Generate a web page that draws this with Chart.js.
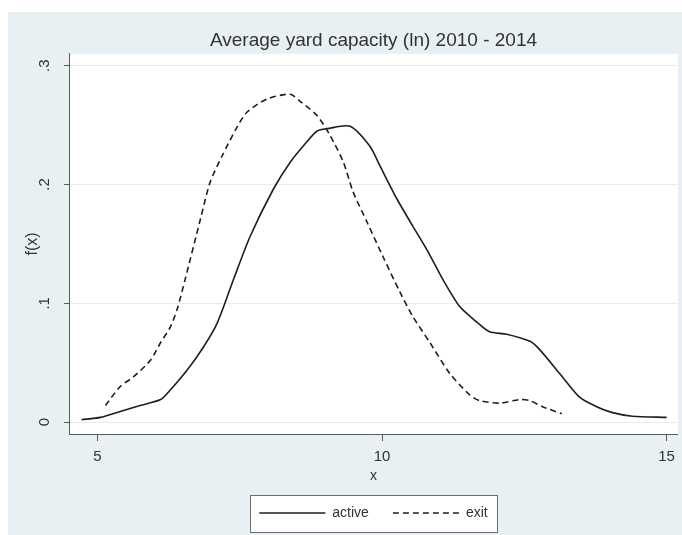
<!DOCTYPE html>
<html>
<head>
<meta charset="utf-8">
<script src="https://cdn.jsdelivr.net/npm/chart.js@4/dist/chart.umd.min.js"></script>
<style>
  html, body { margin: 0; padding: 0; background: #fff; }
  #wrap { position: absolute; left: 8px; top: 12px; width: 674px; height: 523px; background: #e8f0f3; }
</style>
</head>
<body>
<div id="wrap"><canvas id="chart" width="674" height="523"></canvas></div>
<script>
// kernel density of avg yard capacity (ln)
const activeX = [4.72, 5.05, 5.40, 5.75, 6.11, 6.28, 6.58, 6.86, 7.11, 7.39, 7.68, 8.09, 8.39, 8.68, 8.86, 9.04, 9.44, 9.79, 9.96, 10.26, 10.54, 10.79, 11.07, 11.37, 11.67, 11.89, 12.19, 12.60, 12.77, 13.12, 13.47, 13.77, 14.05, 14.40, 15.0]
const activeY = [0.002, 0.004, 0.009, 0.014, 0.019, 0.027, 0.044, 0.063, 0.084, 0.120, 0.156, 0.196, 0.219, 0.236, 0.245, 0.247, 0.249, 0.232, 0.216, 0.188, 0.165, 0.145, 0.120, 0.097, 0.084, 0.076, 0.074, 0.068, 0.061, 0.041, 0.021, 0.013, 0.008, 0.005, 0.004]
const exitX = [5.14, 5.40, 5.63, 5.93, 6.11, 6.28, 6.40, 6.54, 6.81, 6.98, 7.19, 7.46, 7.63, 7.98, 8.39, 8.56, 8.86, 9.09, 9.32, 9.49, 9.74, 10.02, 10.32, 10.54, 10.84, 11.19, 11.54, 11.72, 12.07, 12.42, 12.60, 12.82, 13.16]
const exitY = [0.014, 0.030, 0.038, 0.052, 0.067, 0.080, 0.095, 0.120, 0.171, 0.202, 0.224, 0.249, 0.261, 0.272, 0.276, 0.270, 0.258, 0.241, 0.219, 0.194, 0.168, 0.139, 0.109, 0.089, 0.067, 0.041, 0.023, 0.018, 0.016, 0.019, 0.018, 0.013, 0.007]
const xTicks = [5, 10, 15]
const yTicks = [0, 0.1, 0.2, 0.3]
const yTickLabels = ['0', '.1', '.2', '.3']

const FONT = '"Liberation Sans", Arial, sans-serif'
const TEXT = '#333'
const AXIS = '#5a5a5a'
const GRID = '#e4edf0'
const LINE_W = 1.6

const toPoints = (xs, ys) => xs.map((x, i) => ({ x: x, y: ys[i] }))

// white plot area + legend frame, drawn under everything else
const backdrop = {
  id: 'backdrop',
  beforeDraw: (chart) => {
    const ctx = chart.ctx
    const a = chart.chartArea
    ctx.save()
    ctx.fillStyle = '#fff'
    ctx.fillRect(a.left, a.top, a.right - a.left, a.bottom - a.top)

    const boxes = chart.legend.legendHitBoxes
    if (boxes && boxes.length) {
      const first = boxes[0], last = boxes[boxes.length - 1]
      const l = first.left - 9
      const r = last.left + last.width + 10
      const t = first.top - 11
      const b = first.top + first.height + 12
      ctx.fillStyle = '#fff'
      ctx.fillRect(l, t, r - l, b - t)
      ctx.strokeStyle = '#6e6e6e'
      ctx.lineWidth = 1
      ctx.strokeRect(Math.round(l) + 0.5, Math.round(t) + 0.5, Math.round(r - l), Math.round(b - t))
    }
    ctx.restore()
  }
}

// stata style y labels, turned on their side
const yLabels = {
  id: 'yLabels',
  afterDraw: (chart) => {
    const ctx = chart.ctx
    const scale = chart.scales.y
    ctx.save()
    ctx.fillStyle = TEXT
    ctx.font = '15px ' + FONT
    ctx.textAlign = 'center'
    ctx.textBaseline = 'middle'
    yTicks.forEach((v, i) => {
      ctx.save()
      ctx.translate(37, scale.getPixelForValue(v))
      ctx.rotate(-Math.PI / 2)
      ctx.fillText(yTickLabels[i], 0, 0)
      ctx.restore()
    })
    ctx.restore()
  }
}

new Chart(document.getElementById('chart'), {
  type: 'line',
  data: {
    datasets: [
      {
        label: 'active',
        data: toPoints(activeX, activeY),
        borderColor: '#1e1e1e',
        borderWidth: LINE_W,
        pointRadius: 0,
        tension: 0.25,
        fill: false
      },
      {
        label: 'exit',
        data: toPoints(exitX, exitY),
        borderColor: '#1e1e1e',
        borderWidth: LINE_W,
        borderDash: [6, 4],
        pointRadius: 0,
        tension: 0.25,
        fill: false
      }
    ]
  },
  options: {
    responsive: false,
    animation: false,
    layout: { padding: { left: 0, right: 2, top: 0, bottom: 5 } },
    plugins: {
      tooltip: { enabled: false },
      title: {
        display: true,
        fullSize: false,
        text: 'Average yard capacity (ln) 2010 - 2014',
        color: TEXT,
        font: { family: FONT, size: 19, weight: 'normal' },
        padding: { top: 17, bottom: 2 }
      },
      legend: {
        display: true,
        position: 'bottom',
        fullSize: false,
        labels: {
          usePointStyle: true,
          pointStyle: 'line',
          pointStyleWidth: 66,
          padding: 24,
          color: TEXT,
          font: { family: FONT, size: 14 },
          // point style legends drop the dash, put it back
          generateLabels: (chart) => Chart.defaults.plugins.legend.labels.generateLabels(chart).map((item, i) => {
            item.lineDash = chart.data.datasets[i].borderDash || []
            item.lineWidth = LINE_W
            return item
          })
        }
      }
    },
    scales: {
      x: {
        type: 'linear',
        min: 4.5,
        max: 15.2,
        afterBuildTicks: (scale) => { scale.ticks = xTicks.map(v => ({ value: v })) },
        afterFit: (scale) => { scale.height = 48 },
        grid: { drawOnChartArea: false, drawTicks: true, tickLength: 7, tickColor: AXIS },
        border: { display: true, color: AXIS, width: 1 },
        ticks: { color: TEXT, font: { family: FONT, size: 15 }, padding: 7, maxRotation: 0 },
        title: {
          display: true,
          text: 'x',
          color: TEXT,
          font: { family: FONT, size: 14 },
          padding: { top: 0, bottom: -3 }
        }
      },
      y: {
        type: 'linear',
        min: -0.01,
        max: 0.31,
        afterBuildTicks: (scale) => { scale.ticks = yTicks.map(v => ({ value: v })) },
        afterFit: (scale) => { scale.width = 61 },
        grid: { color: GRID, lineWidth: 1, drawTicks: true, tickLength: 5, tickColor: AXIS },
        border: { display: true, color: AXIS, width: 1 },
        ticks: { display: false },
        title: {
          display: true,
          text: 'f(x)',
          color: TEXT,
          font: { family: FONT, size: 16 },
          padding: { top: 15, bottom: 0 }
        }
      }
    }
  },
  plugins: [backdrop, yLabels]
})
</script>
</body>
</html>
